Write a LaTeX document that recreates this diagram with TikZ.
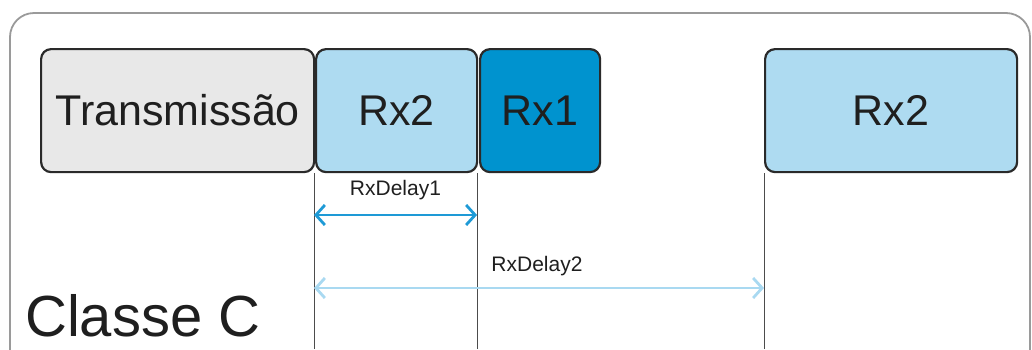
\documentclass[tikz,border=0pt]{standalone}
\usepackage{fontspec}
\setmainfont{Liberation Sans}
\usetikzlibrary{arrows.meta}
\definecolor{grayfill}{HTML}{E8E8E8}
\definecolor{lightblue}{HTML}{AEDBF1}
\definecolor{darkblue}{HTML}{0093CF}
\definecolor{arrowone}{HTML}{1E9AD6}
\definecolor{arrowtwo}{HTML}{A9D9F1}
\definecolor{framegray}{HTML}{9A9A9A}
\definecolor{edgedark}{HTML}{2A2A2A}
\begin{document}
\begin{tikzpicture}[x=1pt,y=-1pt,
  slot/.style={draw=edgedark,line width=2.2pt,rounded corners=10pt,inner sep=0pt,anchor=north west,font=\fontsize{43}{43}\selectfont,text=black!88},
  tick/.style={draw=black!70,line width=0.8pt},
  delay/.style={line width=2.8pt,{Straight Barb[length=9pt,width=20pt]}-{Straight Barb[length=9pt,width=20pt]}},
  lbl/.style={font=\fontsize{21}{21}\selectfont,text=black!88,inner sep=0pt}]
\useasboundingbox (0,0) rectangle (1032,349);
\begin{scope}
\clip (0,0) rectangle (1032,349);
\draw[framegray,line width=1.8pt,rounded corners=24pt] (10,13) rectangle (1030,375);
\end{scope}
\node[slot,fill=grayfill,minimum width=273pt,minimum height=123pt] (tx) at (40,48) {Transmissão};
\node[slot,fill=lightblue,minimum width=161pt,minimum height=123pt] (rxa) at (315,48) {Rx2};
\node[slot,fill=darkblue,minimum width=120pt,minimum height=123pt] (rxb) at (479,48) {Rx1};
\node[slot,fill=lightblue,minimum width=252pt,minimum height=123pt] (rxc) at (764,48) {Rx2};
\coordinate (v1) at (314,349);
\coordinate (v2) at (477,349);
\coordinate (v3) at (764,349);
\draw[tick] (rxa.south west -| v1) -- (v1);
\draw[tick] (rxa.south east -| v2) -- (v2);
\draw[tick] (rxc.south west -| v3) -- (v3);
\coordinate (a1) at (314,215);
\coordinate (b1) at (477,215);
\coordinate (a2) at (314,288);
\coordinate (b2) at (764,288);
\draw[delay,arrowone] (a1) -- (b1) node[lbl,midway,above=14pt] (d1) {RxDelay1};
\draw[delay,arrowtwo] (a2) -- (b2) node[lbl,pos=0.5,above=11pt,xshift=-2pt] (d2) {RxDelay2};
\node[anchor=base west,inner sep=0pt,text depth=0pt,font=\fontsize{58}{58}\selectfont,text=black!88] (cls) at (25,336) {Classe C};
\end{tikzpicture}
\end{document}
